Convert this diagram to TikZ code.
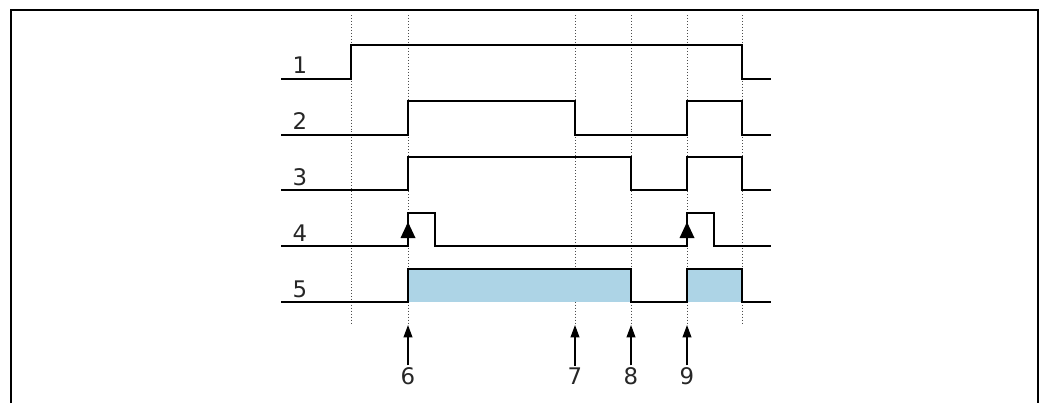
\documentclass[tikz,border=0pt]{standalone}
\usepackage{fontspec}
\setmainfont{DejaVu Sans}
\usetikzlibrary{arrows.meta}
\definecolor{pulseblue}{RGB}{173,212,230}

\begin{document}
\begin{tikzpicture}[x=0.02cm, y=-0.02cm,
    every node/.style={font=\fontsize{13}{15}\selectfont, inner sep=1pt, text=black!85},
    signal/.style={line width=1.3pt, line join=miter},
    guide/.style={line width=0.4pt, dash pattern=on 0.5pt off 1.2pt, black!70},
    marker/.style={line width=0.7pt, -{Triangle[length=7pt, width=5pt]}}]
  \useasboundingbox (0,0) rectangle (1045,403);
  % frame, open at the bottom
  \draw[line width=0.85pt] (11,403) -- (11,10) -- (1038,10) -- (1038,403);
  % dotted time marks
  \foreach \x in {351,408,575,631,687,742}
    \draw[guide] (\x,15) -- (\x,325);
  % shaded output
  \fill[pulseblue] (408,269) rectangle (631,302);
  \fill[pulseblue] (687,269) rectangle (742,302);
  % signals
  \draw[signal] (281,79) -- (351,79) -- (351,45) -- (742,45) -- (742,79) -- (771,79);
  \draw[signal] (281,135) -- (408,135) -- (408,101) -- (575,101) -- (575,135) -- (687,135) -- (687,101) -- (742,101) -- (742,135) -- (771,135);
  \draw[signal] (281,190) -- (408,190) -- (408,157) -- (631,157) -- (631,190) -- (687,190) -- (687,157) -- (742,157) -- (742,190) -- (771,190);
  \draw[signal] (281,246) -- (408,246) -- (408,213) -- (435,213) -- (435,246) -- (687,246) -- (687,213) -- (714,213) -- (714,246) -- (771,246);
  \draw[signal] (281,302) -- (408,302) -- (408,269) -- (631,269) -- (631,302) -- (687,302) -- (687,269) -- (742,269) -- (742,302) -- (771,302);
  % trigger edges
  \fill (408,222) -- (400.5,238) -- (415.5,238) -- cycle;
  \fill (687,222) -- (679.5,238) -- (694.5,238) -- cycle;
  % signal numbers
  \node (n1) at (300,65) {1};
  \node (n2) at (300,121) {2};
  \node (n3) at (300,177) {3};
  \node (n4) at (300,233) {4};
  \node (n5) at (300,289) {5};
  % event numbers
  \node (e6) at (408,376) {6};
  \node (e7) at (575,376) {7};
  \node (e8) at (631,376) {8};
  \node (e9) at (687,376) {9};
  \coordinate (t6) at (408,325);
  \coordinate (t7) at (575,325);
  \coordinate (t8) at (631,325);
  \coordinate (t9) at (687,325);
  \draw[marker] (e6.north) -- (t6);
  \draw[marker] (e7.north) -- (t7);
  \draw[marker] (e8.north) -- (t8);
  \draw[marker] (e9.north) -- (t9);
\end{tikzpicture}
\end{document}
